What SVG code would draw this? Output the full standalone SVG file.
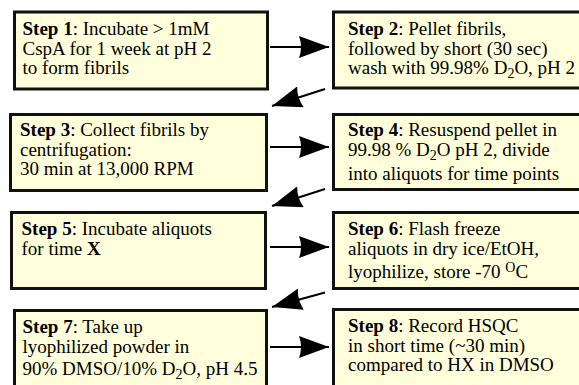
<svg xmlns="http://www.w3.org/2000/svg" width="579" height="385" viewBox="0 0 579 385">
<style>
.box{fill:#FFFFDC;stroke:#111;stroke-width:3}
text{font-family:"Liberation Serif","Times New Roman",serif;font-size:19px;fill:#000}
.b{font-weight:bold}
.sub{font-size:14px}
.conn{stroke:#000;stroke-width:2;fill:none;marker-end:url(#ah)}
</style>
<defs>
<marker id="ah" markerUnits="userSpaceOnUse" viewBox="0 0 30 22" markerWidth="30" markerHeight="22" refX="30" refY="11" orient="auto">
<path d="M30,11 L0,0 Q4,11 0,22 Z" fill="#000"/>
</marker>
</defs>
<rect width="579" height="385" fill="#fff"/>
<g id="connectors">
<line class="conn" x1="270" y1="47" x2="329" y2="47"/>
<line class="conn" x1="325" y1="89" x2="272" y2="106"/>
<line class="conn" x1="270" y1="147" x2="329" y2="147"/>
<line class="conn" x1="325" y1="189" x2="272" y2="206"/>
<line class="conn" x1="270" y1="247" x2="329" y2="247"/>
<line class="conn" x1="325" y1="292.5" x2="272" y2="307"/>
<line class="conn" x1="270" y1="347" x2="329" y2="347"/>
</g>
<g id="step1">
<rect class="box" x="14.5" y="12" width="253" height="77"/>
<text><tspan x="22.5" y="35"><tspan class="b">Step 1</tspan>: Incubate &gt; 1mM</tspan><tspan x="22.5" y="54.5">CspA for 1 week at pH 2</tspan><tspan x="22.5" y="74">to form fibrils</tspan></text>
</g>
<g id="step2">
<rect class="box" x="333.5" y="12" width="260" height="76"/>
<text><tspan x="348" y="35"><tspan class="b">Step 2</tspan>:  Pellet fibrils,</tspan><tspan x="348" y="54.5">followed by short (30 sec)</tspan><tspan x="348" y="74">wash with 99.98% D<tspan class="sub" dy="4">2</tspan><tspan dy="-4">O, pH 2</tspan></tspan></text>
</g>
<g id="step3">
<rect class="box" x="10.5" y="114.5" width="256" height="76"/>
<text><tspan x="20" y="136"><tspan class="b">Step 3</tspan>: Collect fibrils by</tspan><tspan x="20" y="155.5">centrifugation:</tspan><tspan x="20" y="175">30 min at 13,000 RPM</tspan></text>
</g>
<g id="step4">
<rect class="box" x="333.5" y="114.5" width="260" height="75"/>
<text><tspan x="348" y="136"><tspan class="b">Step 4</tspan>: Resuspend pellet in</tspan><tspan x="348" y="155.5">99.98 % D<tspan class="sub" dy="4">2</tspan><tspan dy="-4">O pH 2, divide</tspan></tspan><tspan x="348" y="180">into aliquots for time points</tspan></text>
</g>
<g id="step5">
<rect class="box" x="11.5" y="212.5" width="254" height="76"/>
<text><tspan x="21.5" y="235"><tspan class="b">Step 5</tspan>: Incubate aliquots</tspan><tspan x="21.5" y="254.5">for time <tspan class="b">X</tspan></tspan></text>
</g>
<g id="step6">
<rect class="box" x="333.5" y="212.5" width="260" height="76"/>
<text><tspan x="348" y="235"><tspan class="b">Step 6</tspan>: Flash freeze</tspan><tspan x="348" y="254.5">aliquots in dry ice/EtOH,</tspan><tspan x="348" y="278">lyophilize, store -70 <tspan class="sub" dy="-6">O</tspan><tspan dy="6">C</tspan></tspan></text>
</g>
<g id="step7">
<rect class="box" x="14.5" y="310.5" width="252" height="90"/>
<text><tspan x="22.5" y="333"><tspan class="b">Step 7</tspan>: Take up</tspan><tspan x="22.5" y="352.5">lyophilized powder in</tspan><tspan x="22.5" y="375">90% DMSO/10% D<tspan class="sub" dy="4">2</tspan><tspan dy="-4">O, pH 4.5</tspan></tspan></text>
</g>
<g id="step8">
<rect class="box" x="333.5" y="309.5" width="260" height="90"/>
<text><tspan x="348" y="332"><tspan class="b">Step 8</tspan>: Record HSQC</tspan><tspan x="348" y="351.5">in short time (~30 min)</tspan><tspan x="348" y="371">compared to HX in DMSO</tspan></text>
</g>
</svg>
